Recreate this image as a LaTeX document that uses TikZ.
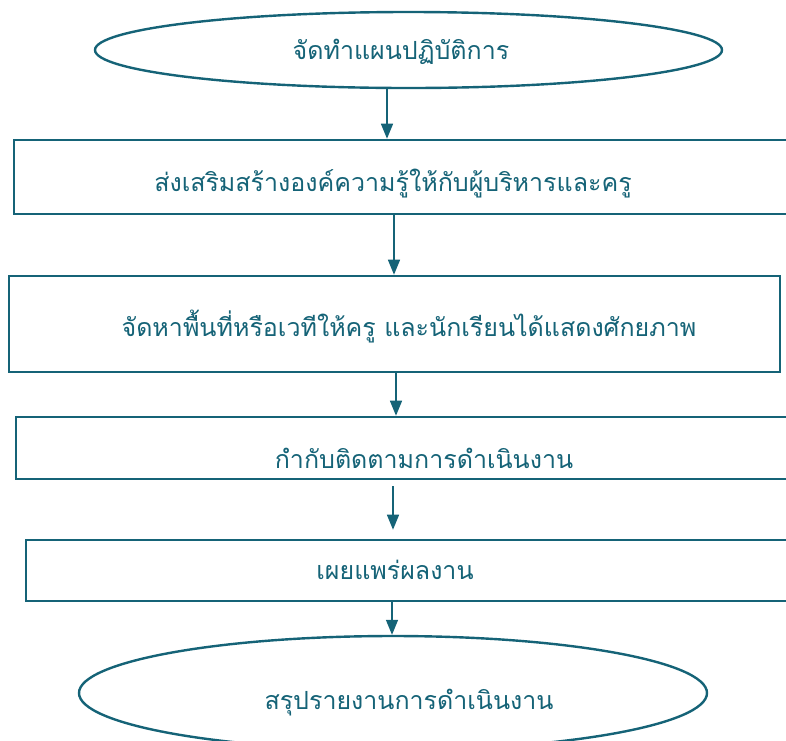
\documentclass[tikz,border=0pt]{standalone}
\usepackage{fontspec}
\newfontfamily\thaifont[Script=Thai]{Loma}
\usetikzlibrary{shapes.geometric,arrows.meta}
\definecolor{tealc}{RGB}{21,99,119}
\tikzset{
  flowbox/.style={draw=tealc,line width=2.6pt,fill=white,rectangle,inner sep=0pt},
  flowell/.style={draw=tealc,line width=2.4pt,fill=white,ellipse,inner sep=0pt},
  lbl/.style={text=tealc,font=\thaifont\fontsize{25}{30}\selectfont,inner sep=0pt,anchor=center},
  arr/.style={draw=tealc,line width=1.5pt,-{Triangle[width=12pt,length=15pt]}}
}
\begin{document}
\begin{tikzpicture}[x=1pt,y=-1pt]
\useasboundingbox (0,0) rectangle (786,740);
\clip (0,0) rectangle (786,740);
\node[flowell,minimum width=627pt,minimum height=76pt] (e1) at (408.5,50) {};
\node[lbl] (t1) at (401,52) {จัดทำแผนปฏิบัติการ};
\node[flowbox,minimum width=790pt,minimum height=74pt] (b2) at (409,177) {};
\node[lbl] (t2) at (393,184) {ส่งเสริมสร้างองค์ความรู้ให้กับผู้บริหารและครู};
\node[flowbox,minimum width=771pt,minimum height=96pt] (b3) at (394.5,324) {};
\node[lbl] (t3) at (409,327) {จัดหาพื้นที่หรือเวทีให้ครู และนักเรียนได้แสดงศักยภาพ};
\node[flowbox,minimum width=790pt,minimum height=62pt] (b4) at (411,448) {};
\node[lbl] (t4) at (424,458) {กำกับติดตามการดำเนินงาน};
\node[flowbox,minimum width=790pt,minimum height=61pt] (b5) at (421,570.5) {};
\node[lbl] (t5) at (395,570) {เผยแพร่ผลงาน};
\node[flowell,minimum width=628pt,minimum height=114pt] (e6) at (393,693) {};
\node[lbl] (t6) at (409,703) {สรุปรายงานการดำเนินงาน};
\coordinate (x1) at (387,0);
\coordinate (x2) at (394,0);
\coordinate (x3) at (396,0);
\coordinate (x4) at (393,0);
\coordinate (x5) at (392,0);
\draw[arr] (e1.south -| x1) -- (b2.north -| x1);
\draw[arr] (b2.south -| x2) -- (b3.north -| x2);
\draw[arr] (b3.south -| x3) -- (b4.north -| x3);
\draw[arr,shorten <=6pt,shorten >=9pt] (b4.south -| x4) -- (b5.north -| x4);
\draw[arr] (b5.south -| x5) -- (e6.north -| x5);
\end{tikzpicture}
\end{document}
